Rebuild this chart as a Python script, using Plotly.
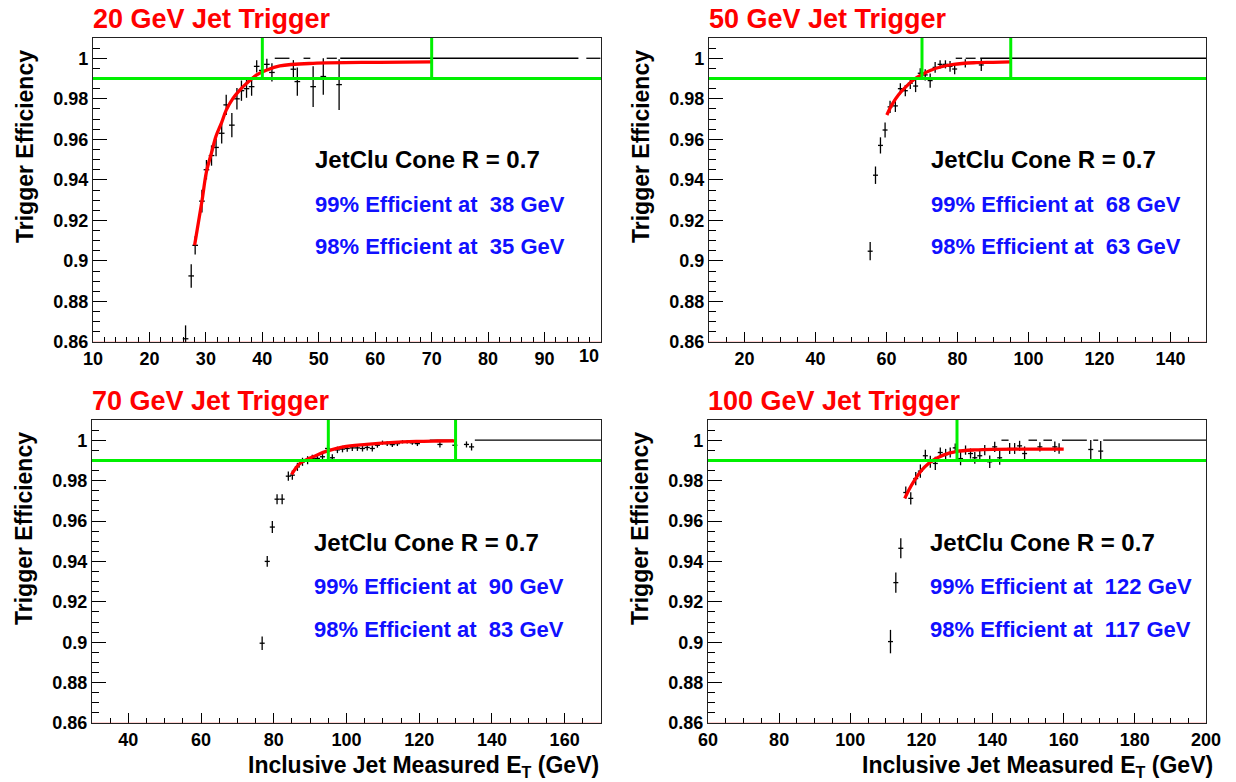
import plotly.graph_objects as go

W, H = 1236, 782
FONT = "Liberation Sans, Arial, Helvetica, sans-serif"

# ---------------- data ----------------
titles = ["20 GeV Jet Trigger", "50 GeV Jet Trigger", "70 GeV Jet Trigger", "100 GeV Jet Trigger"]
eff99_gev = [38, 68, 90, 122]
eff98_gev = [35, 63, 83, 117]
x_ranges = [[10, 100], [10, 150], [30, 170], [60, 200]]
y_range = [0.86, 1.01]
threshold = 0.99
cut_lines = [[40, 70], [70, 95], [95, 130], [130]]

# panel 1 : 20 GeV
p1_x = [26.4, 27.4, 28.1, 29.3, 30.1, 31.0, 31.8, 32.8, 33.6, 34.6, 35.5, 36.3, 37.2, 38.1,
        39.0, 39.9, 40.8, 41.7, 45.5, 46.2, 49.0, 50.8, 53.6]
p1_y = [0.8616, 0.8926, 0.9077, 0.9295, 0.945, 0.952, 0.956, 0.963, 0.977, 0.967, 0.980, 0.984,
        0.985, 0.986, 0.996, 0.994, 0.997, 0.993, 0.9946, 0.9885, 0.986, 0.991, 0.987]
p1_err = [0.0066, 0.0058, 0.0045, 0.0056, 0.0048, 0.005, 0.0043, 0.005, 0.005, 0.006, 0.0053,
          0.005, 0.0045, 0.0045, 0.003, 0.0033, 0.0027, 0.0045, 0.0045, 0.007, 0.010, 0.009, 0.0125]
p1_binhw = 0.5
p1_ones_x = [43.5, 47.9, 52.3, 74.9, 98.65]
p1_ones_hw = [1.3, 0.6, 0.9, 21.1, 1.25]
p1_fit_x = [28.0, 29.3, 30.1, 31.0, 31.8, 32.8, 33.6, 34.8, 36.0, 37.2, 39.0, 40.8, 43.1, 49.0, 60.8, 70.0]
p1_fit_y = [0.9077, 0.9295, 0.944, 0.9534, 0.9616, 0.9684, 0.9744, 0.9802, 0.9843, 0.9876, 0.9918,
            0.9942, 0.9962, 0.9975, 0.998, 0.9982]

# panel 2 : 50 GeV
p2_x = [55.4, 56.9, 58.3, 59.6, 61.0, 62.5, 63.9, 65.3, 66.7, 68.2, 69.5, 70.9, 72.3, 73.7, 75.1,
        76.6, 77.9, 79.2, 82.2, 86.7]
p2_y = [0.9048, 0.9423, 0.957, 0.9646, 0.976, 0.9765, 0.985, 0.984, 0.9877, 0.9863, 0.9926, 0.9918,
        0.989, 0.9955, 0.997, 0.997, 0.996, 0.9947, 0.9975, 0.9967]
p2_err = [0.0045, 0.0043, 0.004, 0.0037, 0.003, 0.003, 0.0027, 0.0028, 0.0029, 0.003, 0.0025, 0.0028,
          0.0035, 0.0026, 0.002, 0.002, 0.0026, 0.0026, 0.002, 0.003]
p2_binhw = 0.7
p2_ones_x = [80.4, 83.7, 118.2]
p2_ones_hw = [0.9, 1.4, 31.8]
p2_fit_x = [60.1, 61.5, 63.4, 65.8, 68.1, 70.0, 72.3, 75.2, 78.9, 84.6, 90.0, 95.0]
p2_fit_y = [0.972, 0.977, 0.982, 0.9865, 0.990, 0.992, 0.994, 0.9957, 0.997, 0.9978, 0.998, 0.9982]

# panel 3 : 70 GeV
p3_x = [76.8, 78.2, 79.6, 80.9, 82.3, 84.0, 85.1, 86.5, 87.9, 89.3, 90.6, 92.0, 93.4, 94.8, 96.1,
        97.5, 98.9, 100.2, 101.6, 103.0, 104.4, 105.7, 107.1, 108.5, 109.9, 111.2, 112.6, 114.0,
        115.4, 116.7, 118.1, 119.5, 125.7, 129.8, 133.0, 134.4]
p3_y = [0.8995, 0.940, 0.957, 0.9708, 0.9708, 0.9822, 0.9827, 0.9868, 0.9893, 0.9901, 0.991, 0.991,
        0.9918, 0.9959, 0.9913, 0.9952, 0.9956, 0.9959, 0.9962, 0.9962, 0.9959, 0.9964, 0.9959,
        0.9975, 0.9988, 0.9983, 0.9978, 0.9983, 0.9992, 0.9992, 0.9987, 0.9983, 0.9979, 0.9975,
        0.9979, 0.9967]
p3_err = [0.0033, 0.0027, 0.003, 0.0025, 0.0025, 0.0023, 0.0023, 0.002, 0.002, 0.002, 0.0018, 0.0018,
          0.0018, 0.0018, 0.0018, 0.0016, 0.0016, 0.0016, 0.0015, 0.0015, 0.0015, 0.0015, 0.0015,
          0.0012, 0.0010, 0.0012, 0.0012, 0.0012, 0.0008, 0.0008, 0.001, 0.0012, 0.0015, 0.0015,
          0.0015, 0.0018]
p3_binhw = 0.7
p3_ones_x = [126.1, 152.65]
p3_ones_hw = [3.2, 17.35]
p3_fit_x = [84.9, 87.2, 91.8, 94.8, 99.1, 105.5, 111.9, 119.2, 125.0, 130.0]
p3_fit_y = [0.983, 0.9885, 0.9926, 0.9947, 0.9967, 0.9979, 0.9988, 0.9994, 0.9996, 0.9997]

# panel 4 : 100 GeV
p4_x = [111.3, 112.8, 114.2, 115.6, 117.0, 118.4, 119.7, 121.1, 122.5, 123.9, 125.3, 126.8, 128.1,
        129.5, 131.0, 132.4, 133.8, 135.0, 136.4, 137.8, 139.2, 140.6, 142.0, 144.8, 146.2, 147.6,
        149.0, 153.3, 157.5, 158.7, 167.6, 170.4]
p4_y = [0.9003, 0.9295, 0.9465, 0.9741, 0.9712, 0.981, 0.9847, 0.9923, 0.9893, 0.9885, 0.9939,
        0.9929, 0.9939, 0.9962, 0.9909, 0.9951, 0.9934, 0.9913, 0.9923, 0.9951, 0.9893, 0.9967,
        0.9913, 0.9959, 0.9959, 0.9972, 0.9934, 0.9967, 0.9967, 0.9959, 0.9954, 0.9946]
p4_err = [0.0058, 0.005, 0.005, 0.003, 0.003, 0.0033, 0.0033, 0.003, 0.003, 0.0033, 0.0025, 0.0028,
          0.0025, 0.0022, 0.0033, 0.0023, 0.0025, 0.0029, 0.0028, 0.0025, 0.0031, 0.0025, 0.0035,
          0.0027, 0.0027, 0.0025, 0.0035, 0.0023, 0.0026, 0.0026, 0.0047, 0.005]
p4_binhw = 0.7
p4_ones_x = [143.5, 151.3, 155.5, 163.0, 169.0, 185.55]
p4_ones_hw = [1.0, 1.2, 1.2, 3.5, 0.7, 14.45]
p4_fit_x = [115.3, 116.5, 118.0, 120.0, 122.0, 124.0, 126.0, 128.0, 130.0, 135.0, 140.0, 150.0, 160.0]
p4_fit_y = [0.9712, 0.9755, 0.980, 0.985, 0.9885, 0.9908, 0.9925, 0.9937, 0.9945, 0.9952, 0.9955,
            0.9956, 0.9956]

y_tick_vals = [0.86, 0.88, 0.90, 0.92, 0.94, 0.96, 0.98, 1.00]
y_tick_text = ["0.86", "0.88", "0.9", "0.92", "0.94", "0.96", "0.98", "1"]
x_tick_vals = [[10, 20, 30, 40, 50, 60, 70, 80, 90],
               [20, 40, 60, 80, 100, 120, 140],
               [40, 60, 80, 100, 120, 140, 160],
               [60, 80, 100, 120, 140, 160, 180, 200]]
x_minor = [2, 5, 5, 5]
p1_last_tick = 100

panels = [
    (p1_x, p1_y, p1_err, p1_binhw, p1_ones_x, p1_ones_hw, p1_fit_x, p1_fit_y),
    (p2_x, p2_y, p2_err, p2_binhw, p2_ones_x, p2_ones_hw, p2_fit_x, p2_fit_y),
    (p3_x, p3_y, p3_err, p3_binhw, p3_ones_x, p3_ones_hw, p3_fit_x, p3_fit_y),
    (p4_x, p4_y, p4_err, p4_binhw, p4_ones_x, p4_ones_hw, p4_fit_x, p4_fit_y),
]

# ---------------- layout geometry (pixels) ----------------
rects = [(93, 38, 601, 342), (709, 38, 1206, 342), (92, 420, 601, 723), (708, 420, 1206, 723)]


def px(x):
    return x / W


def py(y):
    return 1 - y / H


INVIS = "rgba(0,0,0,0)"
GREEN = "#00f000"
fig = go.Figure()
layout = dict(
    width=W, height=H, autosize=False, margin=dict(l=0, r=0, t=0, b=0, pad=0),
    paper_bgcolor="white", plot_bgcolor="white", showlegend=False,
    font=dict(family=FONT, color="black"),
)
shapes = []
annotations = []

for i, (xs, ys, errs, hw, ox, ohw, fx, fy) in enumerate(panels):
    n = i + 1
    xa = "x" if n == 1 else f"x{n}"
    ya = "y" if n == 1 else f"y{n}"
    l, t, r, b = rects[i]
    layout[f"xaxis{'' if n == 1 else n}"] = dict(
        domain=[px(l), px(r)], range=x_ranges[i], anchor=ya, automargin=False,
        showline=True, mirror=True, linecolor="#222", linewidth=1.2,
        showgrid=False, zeroline=False,
        ticks="inside", ticklen=10, tickwidth=1, tickcolor="black",
        tickmode="array", tickvals=x_tick_vals[i], ticktext=[str(v) for v in x_tick_vals[i]],
        tickfont=dict(family=FONT, size=18, color="black", weight="bold"),
        minor=dict(ticks="inside", ticklen=5, tickwidth=1, tickcolor="black",
                   tickmode="linear", tick0=x_ranges[i][0], dtick=x_minor[i], showgrid=False),
    )
    layout[f"yaxis{'' if n == 1 else n}"] = dict(
        domain=[py(b), py(t)], range=y_range, anchor=xa, automargin=False,
        showline=True, mirror=True, linecolor="#222", linewidth=1.2,
        showgrid=False, zeroline=False,
        ticks="inside", ticklen=14, tickwidth=1, tickcolor="black",
        tickmode="array", tickvals=y_tick_vals, ticktext=y_tick_text,
        tickfont=dict(family=FONT, size=18, color="black", weight="bold"),
        minor=dict(ticks="inside", ticklen=7, tickwidth=1, tickcolor="black",
                   tickmode="linear", tick0=0.86, dtick=0.005, showgrid=False),
    )

    # bins at efficiency 1 (horizontal bin widths only)
    fig.add_trace(go.Scatter(
        x=ox, y=[1.0] * len(ox), mode="markers", marker=dict(size=2, color=INVIS),
        error_x=dict(type="data", array=ohw, width=0, thickness=1.3, color="black"),
        xaxis=xa, yaxis=ya, hoverinfo="skip"))
    # efficiency points
    fig.add_trace(go.Scatter(
        x=xs, y=ys, mode="markers", marker=dict(size=2, color=INVIS),
        error_x=dict(type="constant", value=hw, width=0, thickness=1.3, color="black"),
        error_y=dict(type="data", array=errs, width=0, thickness=1.3, color="black"),
        xaxis=xa, yaxis=ya))
    # fit
    fig.add_trace(go.Scatter(
        x=fx, y=fy, mode="lines", line=dict(color="#ff0000", width=3.3, shape="spline"),
        xaxis=xa, yaxis=ya))

    # faint line on the bottom axis
    shapes.append(dict(type="line", xref=f"{xa} domain", yref=ya, x0=0, x1=1,
                       y0=y_range[0], y1=y_range[0],
                       line=dict(color="rgba(255,0,0,0.35)", width=1)))
    # green threshold lines
    shapes.append(dict(type="line", xref=f"{xa} domain", yref=ya, x0=0, x1=1,
                       y0=threshold, y1=threshold, line=dict(color=GREEN, width=3)))
    for c in cut_lines[i]:
        shapes.append(dict(type="line", xref=xa, yref=ya, x0=c, x1=c,
                           y0=threshold, y1=y_range[1], line=dict(color=GREEN, width=3)))

    # panel title
    annotations.append(dict(text=titles[i], xref="paper", yref="paper",
                            x=px(l - 2), y=py(t - 19), xanchor="left", yanchor="middle",
                            showarrow=False,
                            font=dict(family=FONT, size=27, color="#ff0000", weight="bold")))
    # y axis title
    annotations.append(dict(text="Trigger Efficiency", xref="paper", yref="paper",
                            x=px(l - 68), y=py(t + 109), xanchor="center", yanchor="middle",
                            textangle=-90, showarrow=False,
                            font=dict(family=FONT, size=23, color="black", weight="bold")))
    # labels
    tx = l + 220
    annotations.append(dict(text="JetClu Cone R = 0.7", xref="paper", yref="paper",
                            x=px(tx), y=py(t + 122), xanchor="left", yanchor="middle",
                            showarrow=False,
                            font=dict(family=FONT, size=24, color="black", weight="bold")))
    annotations.append(dict(text=f"99% Efficient at\u00a0\u00a0{eff99_gev[i]} GeV", xref="paper",
                            yref="paper", x=px(tx), y=py(t + 166), xanchor="left", yanchor="middle",
                            showarrow=False,
                            font=dict(family=FONT, size=22, color="#1010ff", weight="bold")))
    annotations.append(dict(text=f"98% Efficient at\u00a0\u00a0{eff98_gev[i]} GeV", xref="paper",
                            yref="paper", x=px(tx), y=py(t + 209), xanchor="left", yanchor="middle",
                            showarrow=False,
                            font=dict(family=FONT, size=22, color="#1010ff", weight="bold")))

# truncated last tick label of panel 1 ("100" cut by the pad edge)
annotations.append(dict(text="10", xref="x", yref="paper", x=p1_last_tick,
                        y=py(356), xanchor="right", yanchor="middle", showarrow=False,
                        font=dict(family=FONT, size=18, color="black", weight="bold")))

# x axis titles (bottom row)
for (l, t, r, b), dx in [(rects[2], 0), (rects[3], 9)]:
    annotations.append(dict(text="Inclusive Jet Measured E<sub>T</sub> (GeV)", xref="paper",
                            yref="paper", x=px(r + dx), y=py(766), xanchor="right",
                            yanchor="middle", showarrow=False,
                            font=dict(family=FONT, size=23, color="black", weight="bold")))

layout["shapes"] = shapes
layout["annotations"] = annotations
fig.update_layout(**layout)
fig.write_html("out.html", config={"displayModeBar": False},
               post_script="document.body.style.margin='0px';document.body.style.overflow='hidden';")
